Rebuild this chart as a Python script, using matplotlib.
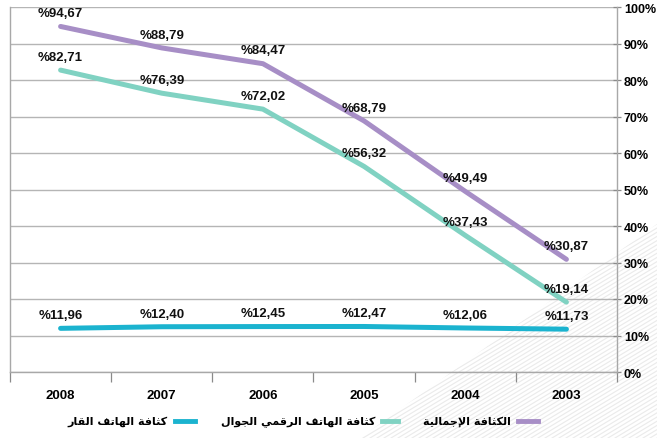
import numpy as np
import matplotlib
matplotlib.use("Agg")
import matplotlib.pyplot as plt
from matplotlib.lines import Line2D
from matplotlib.patches import Polygon

plt.rcParams['font.family'] = ['Liberation Sans', 'DejaVu Sans']

# data
years = ['2008', '2007', '2006', '2005', '2004', '2003']
total = [94.67, 88.79, 84.47, 68.79, 49.49, 30.87]
mobile = [82.71, 76.39, 72.02, 56.32, 37.43, 19.14]
fixed = [11.96, 12.40, 12.45, 12.47, 12.06, 11.73]
yticks = [0, 10, 20, 30, 40, 50, 60, 70, 80, 90, 100]

legend_total = "الكثافة الإجمالية"
legend_mobile = "كثافة الهاتف الرقمي الجوال"
legend_fixed = "كثافة الهاتف القار"

c_total = '#a78ec6'
c_mobile = '#80d2c2'
c_fixed = '#1bb3cf'

# small arabic shaper (no bidi lib available) - forms: isol, fina, init, medi
forms = {
    'ا': (0xFE8D, 0xFE8E, None, None), 'إ': (0xFE87, 0xFE88, None, None),
    'ة': (0xFE93, 0xFE94, None, None), 'ت': (0xFE95, 0xFE96, 0xFE97, 0xFE98),
    'ث': (0xFE99, 0xFE9A, 0xFE9B, 0xFE9C), 'ج': (0xFE9D, 0xFE9E, 0xFE9F, 0xFEA0),
    'ر': (0xFEAD, 0xFEAE, None, None), 'ف': (0xFED1, 0xFED2, 0xFED3, 0xFED4),
    'ق': (0xFED5, 0xFED6, 0xFED7, 0xFED8), 'ك': (0xFED9, 0xFEDA, 0xFEDB, 0xFEDC),
    'ل': (0xFEDD, 0xFEDE, 0xFEDF, 0xFEE0), 'م': (0xFEE1, 0xFEE2, 0xFEE3, 0xFEE4),
    'ه': (0xFEE9, 0xFEEA, 0xFEEB, 0xFEEC), 'و': (0xFEED, 0xFEEE, None, None),
    'ي': (0xFEF1, 0xFEF2, 0xFEF3, 0xFEF4),
}
lamalef = {'ا': (0xFEFB, 0xFEFC), 'إ': (0xFEF9, 0xFEFA)}

def shape(word):
    out = []
    chars = list(word)
    i = 0
    prev_joins = False
    while i < len(chars):
        ch = chars[i]
        if ch not in forms:
            out.append(ch)
            prev_joins = False
            i += 1
            continue
        if ch == 'ل' and i + 1 < len(chars) and chars[i + 1] in lamalef:
            iso, fin = lamalef[chars[i + 1]]
            out.append(chr(fin if prev_joins else iso))
            prev_joins = False
            i += 2
            continue
        f = forms[ch]
        nxt = chars[i + 1] if i + 1 < len(chars) else None
        next_joins = f[2] is not None and nxt in forms
        if prev_joins and next_joins:
            g = f[3]
        elif prev_joins:
            g = f[1]
        elif next_joins:
            g = f[2]
        else:
            g = f[0]
        out.append(chr(g))
        prev_joins = f[2] is not None
        i += 1
    return ''.join(out)[::-1]

def ar(text):
    return ' '.join(shape(w) for w in text.split(' ')[::-1])

W, H = 657, 439
fig = plt.figure(figsize=(W / 100, H / 100), dpi=100)

# decorative stripes in lower right corner (behind everything)
clip = Polygon([(360 / W, 0), (1, 0), (1, 1 - 225 / H)], closed=True,
               transform=fig.transFigure, facecolor='none', edgecolor='none')
fig.add_artist(clip)
for k in range(90):
    x0 = (300 + k * 7) / W
    ln = Line2D([x0, x0 + 400 / W], [0, 240 / H], transform=fig.transFigure,
                color='#d2d2d2', lw=0.8, alpha=0.45, zorder=0)
    ln.set_clip_path(clip)
    fig.add_artist(ln)

ax = fig.add_axes([10 / W, 1 - 373 / H, 607 / W, 365 / H])
ax.set_facecolor('none')

x = np.arange(len(years))
ax.plot(x, total, color=c_total, lw=3.6, solid_capstyle='round', zorder=3)
ax.plot(x, mobile, color=c_mobile, lw=3.6, solid_capstyle='round', zorder=3)
ax.plot(x, fixed, color=c_fixed, lw=3.6, solid_capstyle='round', zorder=3)

for series in (total, mobile, fixed):
    for xi, v in zip(x, series):
        ax.annotate('%' + f'{v:.2f}'.replace('.', ','), (xi, v), xytext=(0, 9.5),
                    textcoords='offset points', ha='center', va='center',
                    fontsize=9.5, fontweight='bold', color='#111111', zorder=4)

ax.set_xlim(-0.5, len(years) - 0.5)
ax.set_ylim(0, 100)
ax.set_yticks(yticks)
ax.set_yticklabels([f'{t}%' for t in yticks])
ax.yaxis.tick_right()
ax.yaxis.grid(True, color='#b5b5b5', lw=1.0)
ax.set_axisbelow(True)
ax.tick_params(axis='y', length=6, width=0.9, color='#8a8a8a', pad=2,
               labelsize=9, direction='inout')
for lab in ax.get_yticklabels():
    lab.set_fontweight('bold')

ax.set_xticks(x)
ax.set_xticklabels(years, fontsize=9.5, fontweight='bold')
ax.set_xticks(np.arange(len(years) + 1) - 0.5, minor=True)
ax.tick_params(axis='x', which='major', length=0, pad=12)
ax.tick_params(axis='x', which='minor', length=7, width=0.9, color='#8a8a8a')

for side in ('left', 'right', 'bottom', 'top'):
    ax.spines[side].set_color('#a8a8a8')
    ax.spines[side].set_linewidth(1.0)
ax.spines['top'].set_visible(False)

# legend (right to left)
entries = [(legend_fixed, c_fixed, 175, 195),
           (legend_mobile, c_mobile, 382, 398),
           (legend_total, c_total, 518, 538)]
ly = 1 - 422 / H
for label, col, x0, x1 in entries:
    fig.add_artist(Line2D([x0 / W, x1 / W], [ly, ly], transform=fig.transFigure,
                          color=col, lw=3.5))
    fig.text((x0 - 7) / W, ly, ar(label), ha='right', va='center',
             fontsize=8, fontweight='bold', family=['DejaVu Sans'])

fig.savefig('out.png', dpi=100)
